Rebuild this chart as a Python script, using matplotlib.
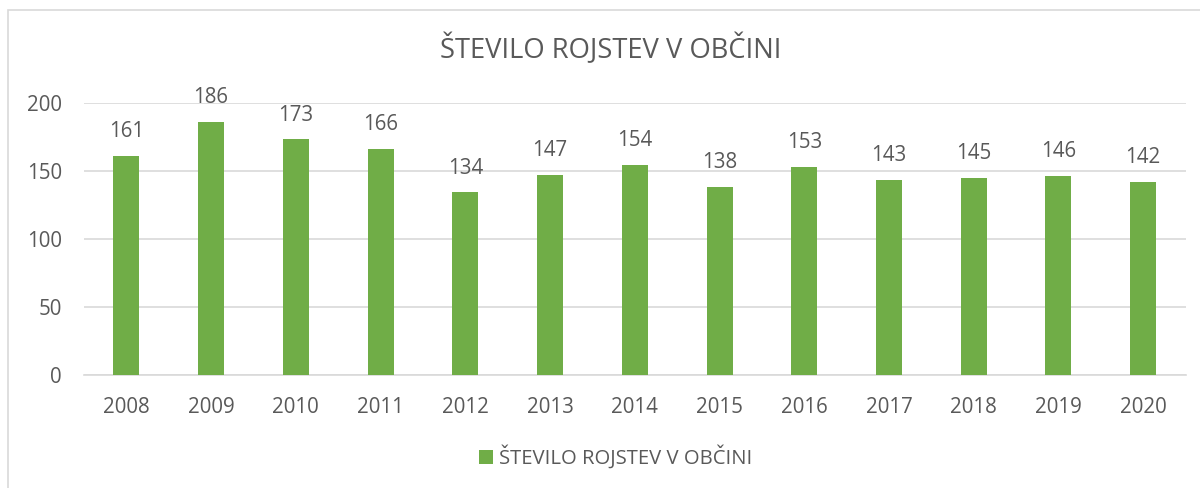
import matplotlib
matplotlib.use('Agg')
import matplotlib.pyplot as plt
from matplotlib.patches import Rectangle

years = ['2008', '2009', '2010', '2011', '2012', '2013', '2014',
         '2015', '2016', '2017', '2018', '2019', '2020']
births = [161, 186, 173, 166, 134, 147, 154, 138, 153, 143, 145, 146, 142]
label = 'ŠTEVILO ROJSTEV V OBČINI'

green = '#70AD47'
grey_text = '#595959'
grid_col = '#D9D9D9'

plt.rcParams['font.family'] = ['Open Sans', 'DejaVu Sans']

fig = plt.figure(figsize=(12, 4.88), dpi=100)
ax = fig.add_axes([0.07, 0.2322, 0.918, 0.5573])

bars = ax.bar(years, births, width=0.307, color=green, label=label, zorder=3)
ax.bar_label(bars, padding=10, fontsize=14.8, color=grey_text)

ax.set_ylim(0, 200)
ax.set_xlim(-0.5, len(years) - 0.5)
ax.set_yticks([0, 50, 100, 150, 200])
ax.yaxis.grid(True, color=grid_col, linewidth=1.2, zorder=0)
ax.tick_params(axis='both', length=0, labelsize=14.8, labelcolor=grey_text)
ax.tick_params(axis='x', pad=16)
ax.tick_params(axis='y', pad=16)
for s in ['top', 'right', 'left']:
  ax.spines[s].set_visible(False)
ax.spines['bottom'].set_color(grid_col)
ax.spines['bottom'].set_linewidth(1.2)

fig.text(0.509, 0.898, label, ha='center', va='center', fontsize=19.7,
         color=grey_text)

fig.legend(loc='center', bbox_to_anchor=(0.513, 0.0635), frameon=False,
           fontsize=14.6, labelcolor=grey_text, handlelength=0.72,
           handleheight=0.72, handletextpad=0.3)

# chart border (only left and top visible in the crop)
fig.patches.append(Rectangle((8 / 1200, -0.1), 1.2, (478 / 488) + 0.1,
                             transform=fig.transFigure, fill=False,
                             edgecolor=grid_col, linewidth=1.2))

fig.savefig('out.png', dpi=100)
